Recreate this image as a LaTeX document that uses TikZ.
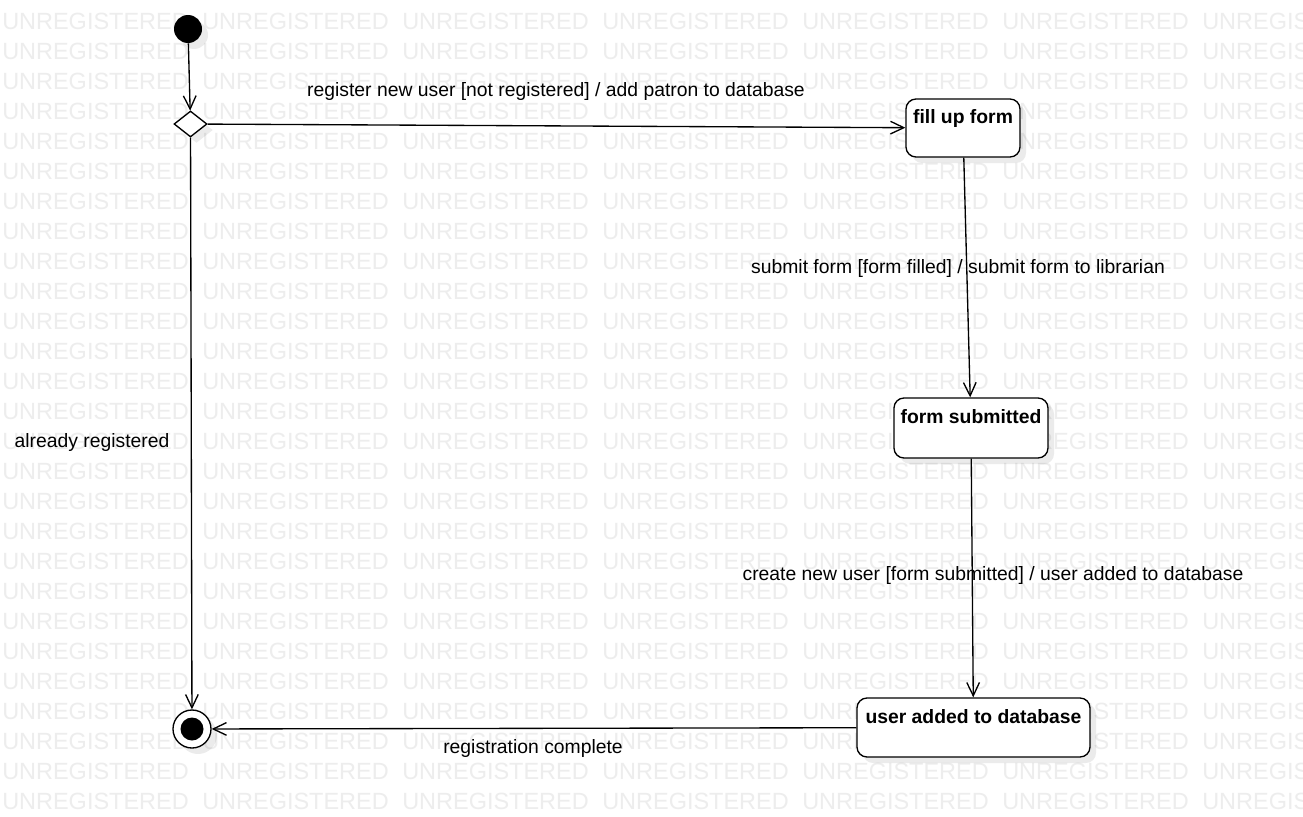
\documentclass[tikz,border=0pt]{standalone}
\usepackage{fontspec}
\setmainfont{Liberation Sans}
\usetikzlibrary{arrows.meta,shapes.geometric,shadows}
\begin{document}
\begin{tikzpicture}[x=0.75pt,y=-0.75pt,
  wm/.style={anchor=west, inner sep=0pt, text=black!7, font=\fontsize{17.6}{20}\selectfont},
  lbl/.style={anchor=base, inner sep=0pt, font=\fontsize{14.5}{17}\selectfont},
  shade/.style={drop shadow={shadow xshift=4.5pt, shadow yshift=-4.5pt, fill=black, opacity=0.08}},
  statebox/.style={draw, line width=1pt, rounded corners=7.5pt, fill=white, inner sep=0pt,
    font=\bfseries\fontsize{14.5}{17}\selectfont, shade},
  arr/.style={line width=1pt, -{Straight Barb[length=10pt,width=9.5pt]}},
  plain/.style={line width=1pt}]
\useasboundingbox (0,0) rectangle (1303,817);
\fill[white] (0,0) rectangle (1303,817);
\begin{scope}
\clip (0,0) rectangle (1303,817);
\foreach \r in {0,...,26}{
  \foreach \c in {0,...,6}{
    \node[wm] (wm-\r-\c) at (200*\c+2, 21+30*\r) {UNREGISTERED};
  }}
\end{scope}

% states
\node[circle, fill=black, minimum size=21pt, inner sep=0pt, shade] (init) at (188,29) {};
\node[diamond, draw, fill=white, line width=1pt, minimum width=24.75pt, minimum height=19.5pt, inner sep=0pt, shade] (dec) at (190.5,124) {};
\node[statebox, minimum width=85.5pt, text height=18pt, text depth=25.5pt] (fill) at (963,128) {fill up form};
\node[statebox, minimum width=115.5pt, text height=18.75pt, text depth=26.25pt] (sub) at (971,428) {form submitted};
\node[statebox, minimum width=174.75pt, text height=18.75pt, text depth=25.5pt] (added) at (973.5,727.5) {user added to database};
\node[circle, draw, fill=white, line width=1pt, minimum size=28.5pt, inner sep=0pt, shade] (fin) at (192,729) {};
\node[circle, fill=black, minimum size=17.25pt, inner sep=0pt] (finin) at (fin.center) {};

% transitions
\draw[arr] (init) -- (dec);
\draw[arr] (dec) -- (fill);
\draw[arr] (fill) -- (sub);
\draw[arr] (sub) -- (added);
\draw[arr] (dec) -- (fin);
\draw[arr] (added) -- (fin);

% labels
\node[lbl] (l1) at (556,97) {register new user [not registered] / add patron to database};
\node[lbl] (l2) at (958,273) {submit form [form filled] / submit form to librarian};
\node[lbl] (l3) at (993,580) {create new user [form submitted] / user added to database};
\node[lbl] (l4) at (92,447) {already registered};
\node[lbl] (l5) at (533,753) {registration complete};
\end{tikzpicture}
\end{document}
